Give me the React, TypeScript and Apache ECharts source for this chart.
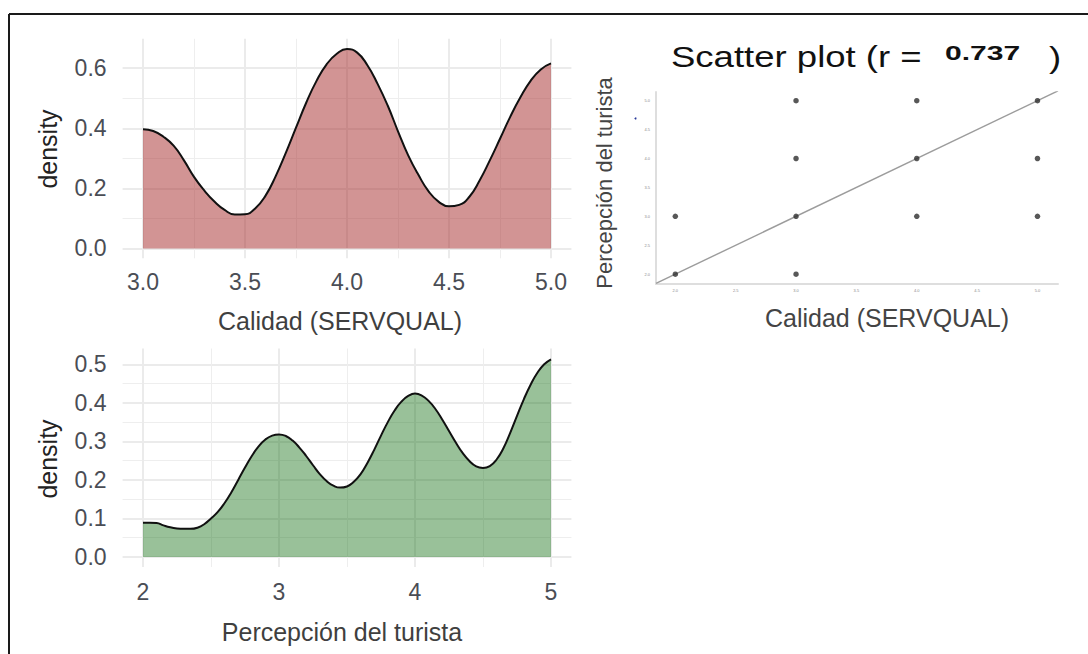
import { useEffect, useRef } from "react";
import * as echarts from "echarts";

// Kernel density of the quality score (SERVQUAL)
const calidadX = [
  3.0, 3.05, 3.1, 3.15, 3.2, 3.25, 3.3, 3.35, 3.4, 3.45, 3.5, 3.55, 3.6, 3.65,
  3.7, 3.75, 3.8, 3.85, 3.9, 3.95, 4.0, 4.05, 4.1, 4.15, 4.2, 4.25, 4.3, 4.35,
  4.4, 4.45, 4.5, 4.55, 4.6, 4.65, 4.7, 4.75, 4.8, 4.85, 4.9, 4.95, 5.0,
];
const calidadDensity = [
  0.397, 0.391, 0.372, 0.342, 0.294, 0.238, 0.193, 0.156, 0.128, 0.113, 0.114,
  0.133, 0.175, 0.24, 0.318, 0.402, 0.485, 0.557, 0.613, 0.648, 0.664, 0.652,
  0.61, 0.548, 0.475, 0.39, 0.31, 0.245, 0.19, 0.155, 0.14, 0.145, 0.172,
  0.226, 0.293, 0.365, 0.438, 0.503, 0.558, 0.596, 0.616,
];

// Kernel density of the tourist perception score
const percepcionX = [
  2.0, 2.05, 2.1, 2.15, 2.2, 2.25, 2.3, 2.35, 2.4, 2.45, 2.5, 2.55, 2.6, 2.65,
  2.7, 2.75, 2.8, 2.85, 2.9, 2.95, 3.0, 3.05, 3.1, 3.15, 3.2, 3.25, 3.3, 3.35,
  3.4, 3.45, 3.5, 3.55, 3.6, 3.65, 3.7, 3.75, 3.8, 3.85, 3.9, 3.95, 4.0, 4.05,
  4.1, 4.15, 4.2, 4.25, 4.3, 4.35, 4.4, 4.45, 4.5, 4.55, 4.6, 4.65, 4.7, 4.75,
  4.8, 4.85, 4.9, 4.95, 5.0,
];
const percepcionDensity = [
  0.089, 0.089, 0.088, 0.082, 0.077, 0.074, 0.073, 0.073, 0.076, 0.085, 0.1,
  0.117, 0.14, 0.168, 0.2, 0.232, 0.262, 0.287, 0.305, 0.315, 0.318, 0.314,
  0.302, 0.284, 0.262, 0.238, 0.215, 0.197, 0.185, 0.18, 0.183, 0.195, 0.215,
  0.244, 0.278, 0.315, 0.35, 0.38, 0.403, 0.418, 0.424, 0.419, 0.405, 0.384,
  0.357, 0.327, 0.297, 0.27, 0.249, 0.235, 0.231, 0.236, 0.253, 0.282, 0.322,
  0.366, 0.409, 0.447, 0.478, 0.5, 0.513,
];

// Axis ticks
const calidadTicks = [3.0, 3.5, 4.0, 4.5, 5.0];
const calidadMinorTicks = [3.25, 3.75, 4.25, 4.75];
const calidadDensityTicks = [0.0, 0.2, 0.4, 0.6];
const calidadDensityMinorTicks = [0.1, 0.3, 0.5];
const percepcionTicks = [2, 3, 4, 5];
const percepcionMinorTicks = [2.5, 3.5, 4.5];
const percepcionDensityTicks = [0.0, 0.1, 0.2, 0.3, 0.4, 0.5];
const percepcionDensityMinorTicks = [0.05, 0.15, 0.25, 0.35, 0.45];
const scatterTicks = [2.0, 2.5, 3.0, 3.5, 4.0, 4.5, 5.0];

// Paired observations (quality, perception)
const scatterCalidad = [2, 2, 3, 3, 3, 3, 4, 4, 4, 5, 5, 5];
const scatterPercepcion = [3, 2, 5, 4, 3, 2, 5, 4, 3, 5, 4, 3];
const correlation = 0.737;
const fitIntercept = 0.0;
const fitSlope = 1.0;

const FONT = "'Liberation Sans', Arial, Helvetica, sans-serif";
const TICK_COLOR = "#4a4d55";
const GRID_MAJOR = { color: "#ebebeb", width: 2 };
const GRID_MINOR = { color: "#eeeeee", width: 1 };

function majorAxis(
  gridIndex: number,
  min: number,
  max: number,
  ticks: number[],
  fmt: (v: number) => string,
  margin: number
) {
  return {
    type: "value",
    gridIndex,
    min,
    max,
    axisLine: { show: false },
    axisTick: { show: false, customValues: ticks },
    axisLabel: {
      customValues: ticks,
      formatter: fmt,
      fontSize: 23,
      color: TICK_COLOR,
      fontFamily: FONT,
      margin,
    },
    splitLine: { show: true, lineStyle: GRID_MAJOR },
  };
}

function minorAxis(gridIndex: number, min: number, max: number, ticks: number[]) {
  return {
    type: "value",
    gridIndex,
    min,
    max,
    axisLine: { show: false },
    axisTick: { show: false, customValues: ticks },
    axisLabel: { show: false },
    splitLine: { show: true, lineStyle: GRID_MINOR },
  };
}

function scatterAxis(min: number, max: number, margin: number) {
  return {
    type: "value",
    gridIndex: 2,
    min,
    max,
    axisLine: { show: true, lineStyle: { color: "#dedede", width: 2 } },
    axisTick: { show: false, customValues: scatterTicks },
    axisLabel: {
      customValues: scatterTicks,
      formatter: (v: number) => v.toFixed(1),
      fontSize: 4,
      color: "#8a8a8a",
      fontFamily: FONT,
      margin,
    },
    splitLine: { show: false },
  };
}

const one = (v: number) => v.toFixed(1);
const whole = (v: number) => String(v);

export default function App() {
  const ref = useRef<HTMLDivElement>(null);

  useEffect(() => {
    if (!ref.current) return;
    const chart = echarts.init(ref.current, undefined, { renderer: "svg" });

    const calidadLine = calidadX.map((x, i) => [x, calidadDensity[i]]);
    const percepcionLine = percepcionX.map((x, i) => [x, percepcionDensity[i]]);
    const points = scatterCalidad.map((x, i) => [x, scatterPercepcion[i]]);
    const fitXs = [1.84, 5.17];
    const fitLine = fitXs.map((x) => [x, fitIntercept + fitSlope * x]);

    chart.setOption({
      animation: false,
      backgroundColor: "#ffffff",
      grid: [
        { left: 122.6, top: 38.8, width: 448.8, height: 219.5 },
        { left: 122.6, top: 348.5, width: 448.8, height: 218.5 },
        { left: 656, top: 92, width: 402, height: 192 },
      ],
      xAxis: [
        majorAxis(0, 2.9, 5.1, calidadTicks, one, 12),
        minorAxis(0, 2.9, 5.1, calidadMinorTicks),
        majorAxis(1, 1.85, 5.15, percepcionTicks, whole, 13),
        minorAxis(1, 1.85, 5.15, percepcionMinorTicks),
        scatterAxis(1.84, 5.17, 4),
      ],
      yAxis: [
        majorAxis(0, -0.033, 0.698, calidadDensityTicks, one, 16),
        minorAxis(0, -0.033, 0.698, calidadDensityMinorTicks),
        majorAxis(1, -0.026, 0.541, percepcionDensityTicks, one, 16),
        minorAxis(1, -0.026, 0.541, percepcionDensityMinorTicks),
        scatterAxis(1.83, 5.15, 6),
      ],
      series: [
        {
          type: "line",
          xAxisIndex: 0,
          yAxisIndex: 0,
          data: calidadLine,
          smooth: 0.5,
          symbol: "none",
          lineStyle: { color: "#111111", width: 2 },
          areaStyle: { color: "#a52a2a", opacity: 0.5 },
          z: 3,
        },
        {
          type: "line",
          xAxisIndex: 2,
          yAxisIndex: 2,
          data: percepcionLine,
          smooth: 0.5,
          symbol: "none",
          lineStyle: { color: "#111111", width: 2 },
          areaStyle: { color: "#006400", opacity: 0.4 },
          z: 3,
        },
        {
          type: "line",
          xAxisIndex: 4,
          yAxisIndex: 4,
          data: fitLine,
          symbol: "none",
          lineStyle: { color: "#9c9c9c", width: 1.4 },
          z: 2,
        },
        {
          type: "scatter",
          xAxisIndex: 4,
          yAxisIndex: 4,
          data: points,
          symbolSize: 5.5,
          itemStyle: { color: "#2e2e2e" },
          z: 3,
        },
      ],
      graphic: [
        // frame: top and left rules
        {
          type: "line",
          shape: { x1: 9, y1: 14, x2: 1088, y2: 14 },
          style: { stroke: "#1a1a1a", lineWidth: 2 },
        },
        {
          type: "line",
          shape: { x1: 9, y1: 14, x2: 9, y2: 654 },
          style: { stroke: "#1a1a1a", lineWidth: 2 },
        },
        // density panel titles
        {
          type: "text",
          x: 48,
          y: 149,
          rotation: Math.PI / 2,
          style: {
            text: "density",
            font: `25px ${FONT}`,
            fill: "#222222",
            textAlign: "center",
            textVerticalAlign: "middle",
          },
        },
        {
          type: "text",
          x: 48,
          y: 459,
          rotation: Math.PI / 2,
          style: {
            text: "density",
            font: `25px ${FONT}`,
            fill: "#222222",
            textAlign: "center",
            textVerticalAlign: "middle",
          },
        },
        {
          type: "text",
          x: 340,
          y: 321,
          style: {
            text: "Calidad (SERVQUAL)",
            font: `25px ${FONT}`,
            fill: "#3f3f3f",
            textAlign: "center",
            textVerticalAlign: "middle",
          },
        },
        {
          type: "text",
          x: 342,
          y: 632,
          style: {
            text: "Percepción del turista",
            font: `25px ${FONT}`,
            fill: "#3f3f3f",
            textAlign: "center",
            textVerticalAlign: "middle",
          },
        },
        // scatter panel titles
        {
          type: "text",
          x: 671,
          y: 57,
          scaleX: 1.26,
          style: {
            text: "Scatter plot (r = ",
            font: `29px ${FONT}`,
            fill: "#111111",
            textAlign: "left",
            textVerticalAlign: "middle",
          },
        },
        {
          type: "text",
          x: 945,
          y: 53,
          scaleX: 1.43,
          style: {
            text: correlation.toFixed(3),
            font: `bold 21px ${FONT}`,
            fill: "#111111",
            textAlign: "left",
            textVerticalAlign: "middle",
          },
        },
        {
          type: "text",
          x: 1049,
          y: 58,
          scaleX: 1.26,
          style: {
            text: ")",
            font: `29px ${FONT}`,
            fill: "#111111",
            textAlign: "left",
            textVerticalAlign: "middle",
          },
        },
        {
          type: "text",
          x: 604,
          y: 183,
          rotation: Math.PI / 2,
          style: {
            text: "Percepción del turista",
            font: `22px ${FONT}`,
            fill: "#444444",
            textAlign: "center",
            textVerticalAlign: "middle",
          },
        },
        {
          type: "text",
          x: 887,
          y: 318,
          style: {
            text: "Calidad (SERVQUAL)",
            font: `25px ${FONT}`,
            fill: "#444444",
            textAlign: "center",
            textVerticalAlign: "middle",
          },
        },
        {
          type: "circle",
          shape: { cx: 635.5, cy: 118.5, r: 1 },
          style: { fill: "#2a3a9a" },
        },
      ],
    });

    return () => chart.dispose();
  }, []);

  return (
    <div
      ref={ref}
      style={{
        position: "fixed",
        left: 0,
        top: 0,
        width: 1088,
        height: 654,
        background: "#ffffff",
      }}
    />
  );
}
